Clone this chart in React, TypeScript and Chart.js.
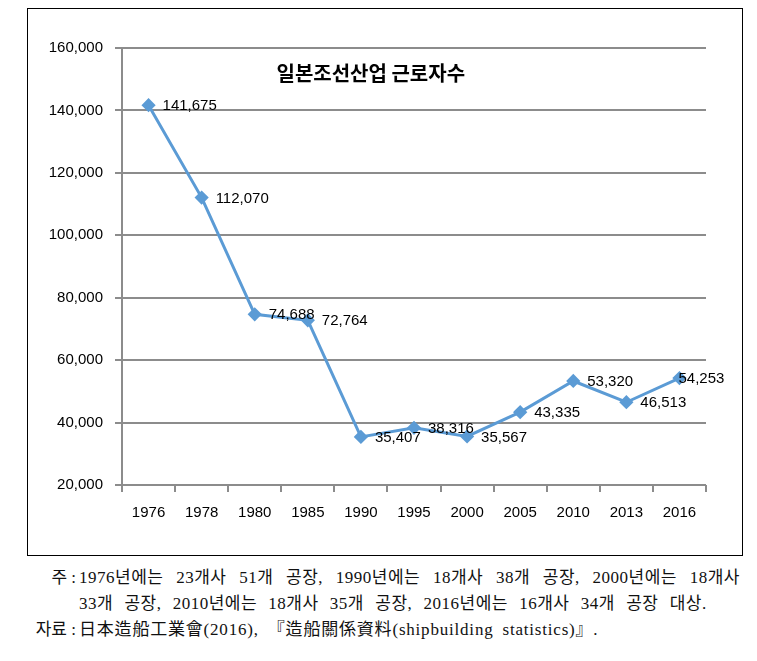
import React, { useEffect, useRef } from "react";
import { Chart, registerables } from "chart.js";

Chart.register(...registerables);

const years = ["1976", "1978", "1980", "1985", "1990", "1995", "2000", "2005", "2010", "2013", "2016"];
const workers = [141675, 112070, 74688, 72764, 35407, 38316, 35567, 43335, 53320, 46513, 54253];
const yMin = 20000;
const yMax = 160000;
const yStep = 20000;
const chartTitle = "일본조선산업 근로자수";
const noteLabel = "주 :";
const noteLine1 = "1976년에는 23개사 51개 공장, 1990년에는 18개사 38개 공장, 2000년에는 18개사";
const noteLine2 = "33개 공장, 2010년에는 18개사 35개 공장, 2016년에는 16개사 34개 공장 대상.";
const sourceLabel = "자료 :";
const sourceLine = "日本造船工業會(2016), 『造船關係資料(shipbuilding statistics)』.";

const LINE_COLOR = "#5B9BD5";
const GRID_COLOR = "#8c8c8c";
const FONT_FAMILY = "'Liberation Sans', Arial, sans-serif";
const TICK_FONT = { family: FONT_FAMILY, size: 15 };

const fmt = (v: number) => v.toLocaleString("en-US");

const labelPlugin = {
  id: "valueLabels",
  afterDatasetsDraw(chart: any) {
    const meta = chart.getDatasetMeta(0);
    const ctx = chart.ctx;
    ctx.save();
    ctx.font = `15px ${FONT_FAMILY}`;
    ctx.fillStyle = "#000";
    ctx.textAlign = "left";
    ctx.textBaseline = "middle";
    const n = meta.data.length;
    meta.data.forEach((pt: any, i: number) => {
      const dx = i === n - 1 ? -1 : 14;
      ctx.fillText(fmt(workers[i]), pt.x + dx, pt.y + 1);
    });
    ctx.restore();
  },
};

const titlePlugin = {
  id: "innerTitle",
  afterDraw(chart: any) {
    const { ctx, chartArea } = chart;
    ctx.save();
    ctx.font = "bold 20px 'Noto Sans CJK KR', sans-serif";
    ctx.fillStyle = "#000";
    ctx.textAlign = "center";
    ctx.textBaseline = "middle";
    const x = chartArea.left + (chartArea.right - chartArea.left) * 0.426;
    const y = chartArea.top + 25;
    ctx.fillText(chartTitle, x, y);
    ctx.restore();
  },
};

function LineChart() {
  const ref = useRef<HTMLCanvasElement | null>(null);
  useEffect(() => {
    if (!ref.current) return;
    const chart = new Chart(ref.current, {
      type: "line",
      data: {
        labels: years,
        datasets: [
          {
            data: workers,
            borderColor: LINE_COLOR,
            backgroundColor: LINE_COLOR,
            borderWidth: 3,
            pointStyle: "rectRot",
            pointRadius: 5,
            pointBackgroundColor: LINE_COLOR,
            pointBorderColor: LINE_COLOR,
            tension: 0,
          },
        ],
      },
      options: {
        responsive: false,
        animation: false,
        devicePixelRatio: 1,
        layout: { padding: { top: 39, right: 36, left: 0, bottom: 0 } },
        plugins: { legend: { display: false }, tooltip: { enabled: false }, title: { display: false } },
        scales: {
          x: {
            offset: true,
            grid: {
              display: true,
              drawOnChartArea: false,
              drawTicks: true,
              tickLength: 7,
              offset: true,
              color: GRID_COLOR,
              lineWidth: 2,
            },
            border: { display: false },
            ticks: { color: "#000", font: TICK_FONT, padding: 12, maxRotation: 0, autoSkip: false },
            afterFit(scale: any) {
              scale.height = 70;
            },
          },
          y: {
            min: yMin,
            max: yMax,
            grid: { color: GRID_COLOR, lineWidth: 2, tickLength: 7, drawTicks: true },
            border: { display: true, color: GRID_COLOR, width: 2 },
            ticks: {
              stepSize: yStep,
              color: "#000",
              font: TICK_FONT,
              padding: 12,
              callback: (v: any) => fmt(Number(v)),
            },
            afterFit(scale: any) {
              scale.width = 94;
            },
          },
        },
      },
      plugins: [labelPlugin, titlePlugin],
    });
    return () => chart.destroy();
  }, []);
  return <canvas ref={ref} width={714} height={546} style={{ display: "block" }} />;
}

export default function App() {
  const noteFont: React.CSSProperties = {
    fontFamily: "'Liberation Serif', 'DejaVu Serif', 'Noto Sans CJK KR', serif",
    fontSize: 17,
    lineHeight: "26px",
    color: "#111",
  };
  const labelCol: React.CSSProperties = { width: 49, textAlign: "right", flex: "none", whiteSpace: "nowrap" };
  return (
    <div>
      <div style={{ marginLeft: 19, width: 714, border: "1px solid #000" }}>
        <LineChart />
      </div>
      <div style={{ marginLeft: 19, marginTop: 9, ...noteFont }}>
        <div style={{ display: "flex" }}>
          <div style={labelCol}>{noteLabel}</div>
          <div style={{ marginLeft: 3, width: 661, textAlign: "justify", textAlignLast: "justify", letterSpacing: 0.5 }}>{noteLine1}</div>
        </div>
        <div style={{ display: "flex" }}>
          <div style={labelCol}></div>
          <div style={{ marginLeft: 3, width: 661, whiteSpace: "nowrap", wordSpacing: 6.5, letterSpacing: 0.5 }}>{noteLine2}</div>
        </div>
        <div style={{ display: "flex" }}>
          <div style={labelCol}>{sourceLabel}</div>
          <div style={{ marginLeft: 3, whiteSpace: "nowrap", wordSpacing: 4, letterSpacing: 0.8 }}>{sourceLine}</div>
        </div>
      </div>
    </div>
  );
}
